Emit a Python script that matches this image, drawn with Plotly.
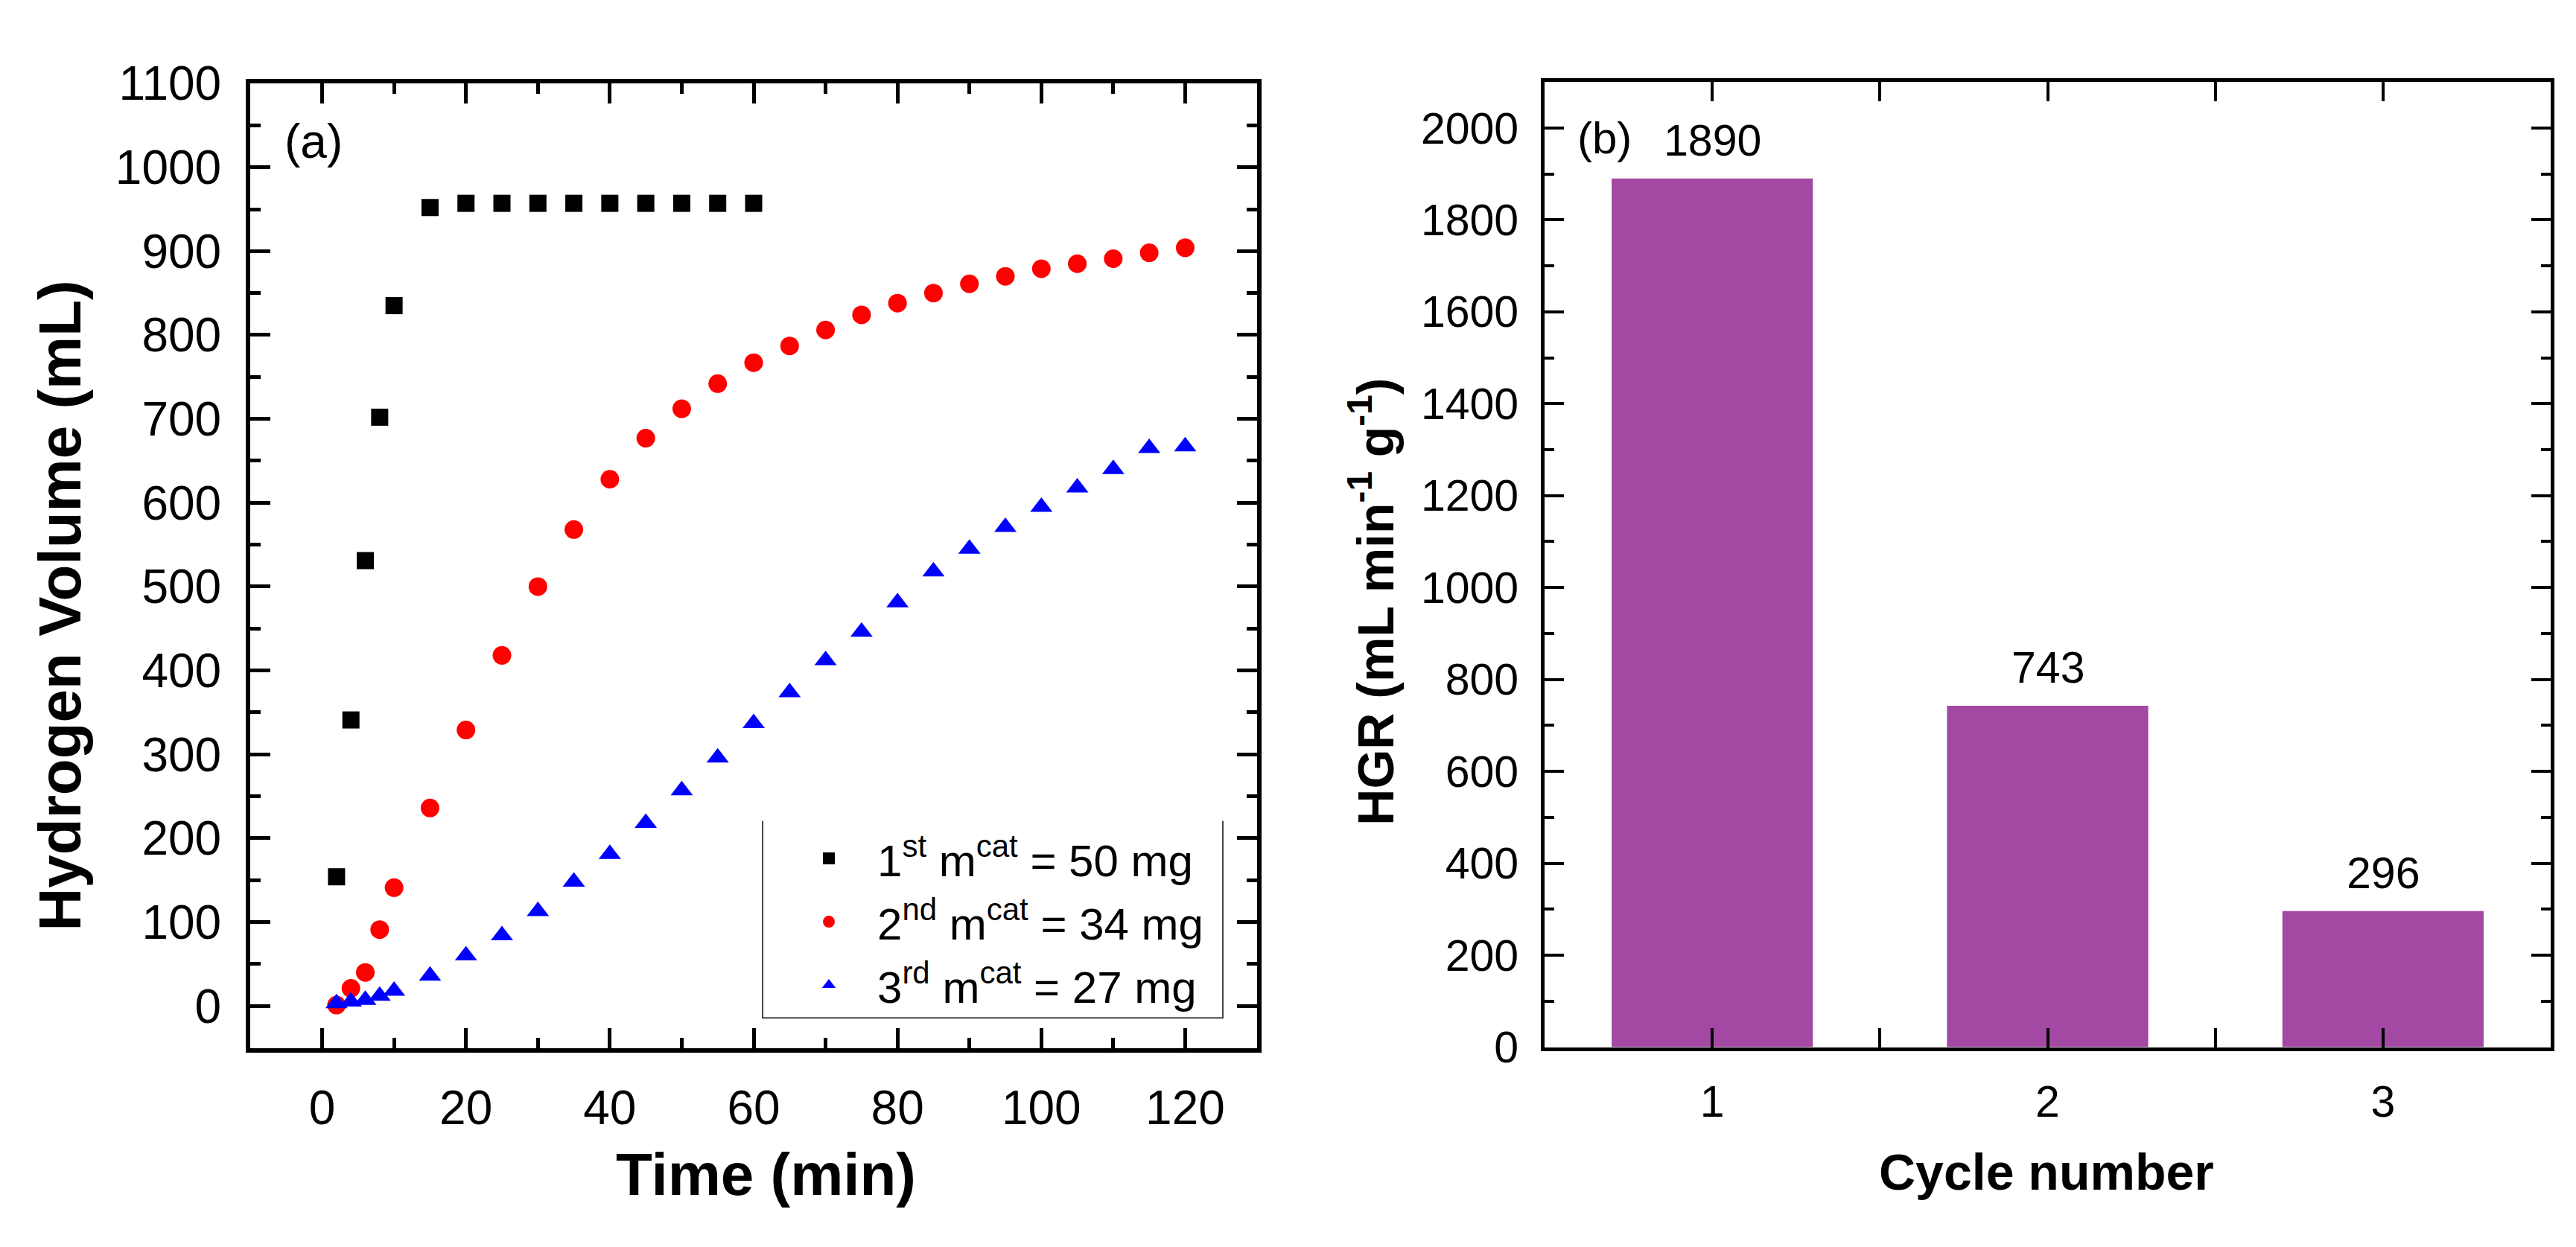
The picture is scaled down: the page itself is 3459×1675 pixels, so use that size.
"""
Volume de hidrogênio vs tempo para 3 ciclos (a) e taxa de geração por ciclo (b)
"""

# pylint: disable=invalid-name

import plotly.graph_objects as go
from plotly.subplots import make_subplots

# painel (a)
tempo_1 = [2, 4, 6, 8, 10, 15, 20, 25, 30, 35, 40, 45, 50, 55, 60]
vol_1 = [154, 341, 531, 702, 835, 952, 957, 957, 957, 957, 957, 957, 957, 957, 957]

tempo_2 = [2, 4, 6, 8, 10, 15, 20, 25, 30, 35, 40, 45, 50, 55, 60,
           65, 70, 75, 80, 85, 90, 95, 100, 105, 110, 115, 120]
vol_2 = [1, 21, 40, 91, 141, 236, 329, 418, 500, 568, 628, 677, 712, 742, 767,
         787, 806, 824, 838, 850, 861, 870, 879, 885, 891, 898, 904]

tempo_3 = tempo_2
vol_3 = [3, 5, 7, 12, 18, 36, 60, 84, 113, 148, 181, 218, 257, 296, 337,
         374, 412, 446, 481, 518, 545, 571, 595, 618, 640, 665, 667]

nomes = ["1<sup>st</sup> m<sup>cat</sup> = 50 mg",
         "2<sup>nd</sup> m<sup>cat</sup> = 34 mg",
         "3<sup>rd</sup> m<sup>cat</sup> = 27 mg"]

# painel (b)
ciclos = [1, 2, 3]
hgr = [1890, 743, 296]

FONT = "Arial, Liberation Sans, sans-serif"
W, H = 3459, 1675

eixo_base = dict(
    showline=True, linecolor="black", mirror="ticks",
    ticks="inside", tickcolor="black",
    showgrid=False, zeroline=False,
    tickfont={"family": FONT, "color": "black"},
)

fig = make_subplots(rows=1, cols=2)

simbolos = [("square", "black", 23), ("circle", "red", 25), ("triangle-up", "blue", 26)]
for i, (xs, ys) in enumerate([(tempo_1, vol_1), (tempo_2, vol_2), (tempo_3, vol_3)]):
    sym, cor, tam = simbolos[i]
    fig.add_trace(go.Scatter(
        x=xs, y=ys, mode="markers", name=nomes[i], legendgroup=str(i),
        marker={"symbol": sym, "color": cor, "size": tam, "line": {"width": 0}},
    ), row=1, col=1)

fig.add_trace(go.Bar(
    x=ciclos, y=hgr, width=0.6, showlegend=False,
    marker={"color": "#A349A4", "line": {"width": 0}},
), row=1, col=2)

fig.update_layout(
    width=W, height=H,
    margin=dict(l=0, r=0, t=0, b=0),
    paper_bgcolor="white", plot_bgcolor="white",
    font={"family": FONT, "color": "black"},
    legend={"x": 1040 / W, "y": 1 - 1110 / H, "xanchor": "left", "yanchor": "top",
            "font": {"size": 60, "family": FONT}, "bgcolor": "rgba(0,0,0,0)",
            "borderwidth": 0, "itemwidth": 120, "tracegroupgap": 4},
    xaxis=dict(eixo_base, domain=[328 / W, 1680 / W], range=[-10, 130],
               tick0=0, dtick=20, ticklen=27, tickwidth=5, linewidth=6,
               ticklabelstandoff=20,
               minor={"dtick": 10, "ticks": "inside", "ticklen": 14, "tickwidth": 5,
                      "tickcolor": "black"}),
    yaxis=dict(eixo_base, domain=[1 - 1423 / H, 1 - 71 / H], range=[-50, 1100],
               tick0=0, dtick=100, ticklen=27, tickwidth=5, linewidth=6,
               ticklabelstandoff=20,
               minor={"dtick": 50, "ticks": "inside", "ticklen": 14, "tickwidth": 5,
                      "tickcolor": "black"}),
    xaxis2=dict(eixo_base, domain=[2066 / W, 3417 / W], range=[0.5, 3.5],
                tick0=1, dtick=1, ticklen=26, tickwidth=4, linewidth=5,
                ticklabelstandoff=18,
                minor={"dtick": 0.5, "tick0": 0.5, "ticks": "inside", "ticklen": 26,
                       "tickwidth": 4, "tickcolor": "black"}),
    yaxis2=dict(eixo_base, domain=[1 - 1422 / H, 1 - 69 / H], range=[0, 2100],
                tick0=0, dtick=200, ticklen=26, tickwidth=4, linewidth=5,
                ticklabelstandoff=18,
                minor={"dtick": 100, "ticks": "inside", "ticklen": 13, "tickwidth": 4,
                       "tickcolor": "black"}),
)
fig.update_xaxes(tickfont_size=64, row=1, col=1)
fig.update_yaxes(tickfont_size=64, row=1, col=1)
fig.update_xaxes(tickfont_size=59, row=1, col=2)
fig.update_yaxes(tickfont_size=59, row=1, col=2)

# caixa da legenda, sem o lado de cima
fig.add_shape(type="path", xref="paper", yref="paper",
              path=f"M {1016 / W} {1 - 1105 / H} L {1016 / W} {1 - 1381 / H} "
                   f"L {1634 / W} {1 - 1381 / H} L {1634 / W} {1 - 1105 / H}",
              line={"color": "#444", "width": 2})

# rótulos das barras
for c, v in zip(ciclos, hgr):
    fig.add_annotation(x=c, y=v, xref="x2", yref="y2", text=str(v), showarrow=False,
                       yanchor="bottom", yshift=16, font={"size": 59})

titulos = [
    ("(a)", 372 / W, 1 - 152 / H, 0, 64, "left"),
    ("(b)", 2108 / W, 1 - 148 / H, 0, 60, "left"),
    ("<b>Hydrogen Volume (mL)</b>", 72 / W, 1 - 803 / H, -90, 80, "center"),
    ("<b>Time (min)</b>", 1020 / W, 1 - 1600 / H, 0, 80, "center"),
    ("<b>HGR (mL min<sup>-1</sup> g<sup>-1</sup>)</b>", 1834 / W, 1 - 798 / H, -90, 68, "center"),
    ("<b>Cycle number</b>", 2740 / W, 1 - 1597 / H, 0, 68, "center"),
]
for txt, x, y, ang, tam, xa in titulos:
    fig.add_annotation(x=x, y=y, xref="paper", yref="paper", text=txt, showarrow=False,
                       textangle=ang, xanchor=xa, yanchor="middle",
                       font={"size": tam, "family": FONT, "color": "black"})

fig.write_html("out.html")
